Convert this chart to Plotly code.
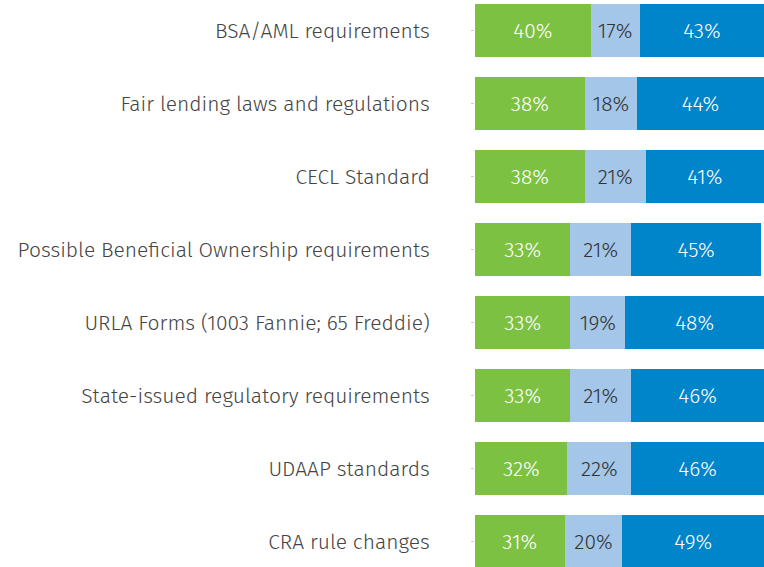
import plotly.graph_objects as go

categories = [
    "BSA/AML requirements",
    "Fair lending laws and regulations",
    "CECL Standard",
    "Possible Beneficial Ownership requirements",
    "URLA Forms (1003 Fannie; 65 Freddie)",
    "State-issued regulatory requirements",
    "UDAAP standards",
    "CRA rule changes",
]
series_a = [40, 38, 38, 33, 33, 33, 32, 31]
series_b = [17, 18, 21, 21, 19, 21, 22, 20]
series_c = [43, 44, 41, 45, 48, 46, 46, 49]

colors = ["#7DC142", "#A3C6E9", "#0084CA"]
text_colors = ["white", "#333333", "white"]
FONT = "Fira Sans Light, Fira Sans, Open Sans, Lato, sans-serif"

fig = go.Figure()
for vals, col, tc in zip([series_a, series_b, series_c], colors, text_colors):
    fig.add_trace(go.Bar(
        y=categories, x=vals, orientation="h",
        marker=dict(color=col, line=dict(width=0)),
        text=[f"{v}%" for v in vals], textposition="inside",
        insidetextanchor="middle",
        textfont=dict(color=tc, size=21, family=FONT, weight=300),
        hoverinfo="skip",
    ))

fig.update_layout(
    barmode="stack", bargap=0.274,
    width=764, height=567,
    margin=dict(l=475, r=0, t=0, b=0),
    plot_bgcolor="white", paper_bgcolor="white",
    showlegend=False,
    uniformtext=dict(minsize=21, mode="show"),
)
fig.update_xaxes(range=[0, 100], visible=False)
fig.update_yaxes(
    autorange=False, range=[7.349, -0.418],
    ticks="outside", ticklen=3, tickcolor="#cccccc",
    ticklabelstandoff=37,
    tickfont=dict(size=21, color="#444444", family=FONT, weight=300),
    showline=False, showgrid=False,
)
fig.write_html(
    "out.html",
    config={"displayModeBar": False},
    post_script="document.body.style.margin='0';document.body.style.overflow='hidden';",
)
